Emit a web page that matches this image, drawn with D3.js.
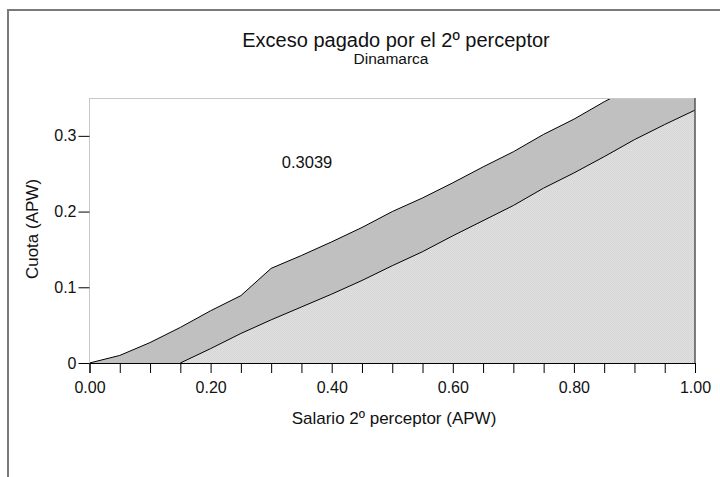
<!DOCTYPE html>
<html>
<head>
<meta charset="utf-8">
<script src="https://cdn.jsdelivr.net/npm/d3@7"></script>
<style>
  html, body { margin: 0; padding: 0; background: #fff; }
  svg { display: block; font-family: "Liberation Sans", Arial, sans-serif; }
</style>
</head>
<body>
<svg id="chart" width="720" height="477"></svg>
<script>
// salario del 2º perceptor (APW)
const salario = [0.00, 0.05, 0.10, 0.15, 0.20, 0.25, 0.30, 0.35, 0.40, 0.45, 0.50,
                 0.55, 0.60, 0.65, 0.70, 0.75, 0.80, 0.85, 0.90, 0.95, 1.00];
// cuota pagada (curva superior) y cuota individual (curva inferior)
const cuotaTotal = [0.000, 0.010, 0.027, 0.047, 0.069, 0.089, 0.125, 0.142, 0.160, 0.179, 0.200,
                    0.218, 0.238, 0.259, 0.279, 0.302, 0.322, 0.345, 0.366, 0.387, 0.408];
const cuotaBase = [0.000, 0.000, 0.000, 0.000, 0.019, 0.039, 0.057, 0.074, 0.091, 0.109, 0.1285,
                   0.147, 0.168, 0.188, 0.208, 0.231, 0.251, 0.2725, 0.295, 0.315, 0.334];
const yTicks = [0, 0.1, 0.2, 0.3];
const xLabelTicks = [0.00, 0.20, 0.40, 0.60, 0.80, 1.00];
const annotation = '0.3039';

const svg = d3.select('#chart');
const M = { left: 89.5, right: 695, top: 98, bottom: 363 };

const x = d3.scaleLinear().domain([0, 1]).range([M.left, M.right]);
const y = d3.scaleLinear().domain([0, 0.35]).range([M.bottom, M.top]);

const pts = salario.map((s, i) => ({ s, hi: cuotaTotal[i], lo: cuotaBase[i] }));

// outer frame
svg.append('rect')
  .attr('x', 8).attr('y', 10).attr('width', 730).attr('height', 500)
  .attr('fill', 'none').attr('stroke', '#7a7a7a').attr('stroke-width', 2);

// dither pattern for the lower band
const defs = svg.append('defs');
const pat = defs.append('pattern')
  .attr('id', 'dots').attr('width', 2).attr('height', 2)
  .attr('patternUnits', 'userSpaceOnUse');
pat.append('rect').attr('width', 2).attr('height', 2).attr('fill', '#e2e2e2');
pat.append('rect').attr('width', 1).attr('height', 1).attr('fill', '#d4d4d4');
pat.append('rect').attr('x', 1).attr('y', 1).attr('width', 1).attr('height', 1).attr('fill', '#d4d4d4');

defs.append('clipPath').attr('id', 'plot-clip')
  .append('rect')
  .attr('x', M.left).attr('y', M.top)
  .attr('width', M.right - M.left).attr('height', M.bottom - M.top);

const plot = svg.append('g').attr('clip-path', 'url(#plot-clip)');

plot.append('path')
  .datum(pts)
  .attr('fill', '#c0c0c0')
  .attr('d', d3.area().x((d) => x(d.s)).y0(y(0)).y1((d) => y(d.hi)));

plot.append('path')
  .datum(pts)
  .attr('fill', 'url(#dots)')
  .attr('d', d3.area().x((d) => x(d.s)).y0(y(0)).y1((d) => y(d.lo)));

plot.append('path')
  .datum(pts)
  .attr('fill', 'none').attr('stroke', '#000').attr('stroke-width', 1)
  .attr('d', d3.line().x((d) => x(d.s)).y((d) => y(d.hi)));

plot.append('path')
  .datum(pts.filter((d) => d.s >= 0.15))
  .attr('fill', 'none').attr('stroke', '#000').attr('stroke-width', 1)
  .attr('d', d3.line().x((d) => x(d.s)).y((d) => y(d.lo)));

// plot spines
svg.append('line')
  .attr('x1', M.left).attr('x2', M.right).attr('y1', M.top + 0.5).attr('y2', M.top + 0.5)
  .attr('stroke', '#c8c8c8');
svg.append('line')
  .attr('x1', M.left).attr('x2', M.left).attr('y1', M.top).attr('y2', M.bottom)
  .attr('stroke', '#c8c8c8');
svg.append('line')
  .attr('x1', M.right).attr('x2', M.right).attr('y1', M.top).attr('y2', M.bottom)
  .attr('stroke', '#555').attr('stroke-width', 1.5);

// axes
const xAxis = d3.axisBottom(x)
  .tickValues(salario)
  .tickSize(10)
  .tickPadding(9)
  .tickFormat((d) => (xLabelTicks.some((t) => Math.abs(t - d) < 1e-9) ? d3.format('.2f')(d) : ''));
const gx = svg.append('g').attr('transform', `translate(0,${M.bottom})`).call(xAxis);
gx.select('.domain').attr('stroke', '#000');
gx.selectAll('.tick line').attr('stroke', '#000');
gx.selectAll('text').attr('font-size', 16).attr('fill', '#111')
  .attr('font-family', '"Liberation Sans", Arial, sans-serif');

const yAxis = d3.axisLeft(y)
  .tickValues(yTicks)
  .tickSize(11)
  .tickPadding(2)
  .tickFormat((d) => (d === 0 ? '0' : d3.format('.1f')(d)));
const gy = svg.append('g').attr('transform', `translate(${M.left},0)`).call(yAxis);
gy.select('.domain').remove();
gy.selectAll('.tick line').attr('stroke', '#000');
gy.selectAll('text').attr('font-size', 16).attr('fill', '#111')
  .attr('font-family', '"Liberation Sans", Arial, sans-serif');

// texts
svg.append('text')
  .attr('x', 396).attr('y', 47).attr('text-anchor', 'middle')
  .attr('font-size', 20).attr('fill', '#111')
  .text('Exceso pagado por el 2º perceptor');
svg.append('text')
  .attr('x', 391).attr('y', 64).attr('text-anchor', 'middle')
  .attr('font-size', 15.5).attr('fill', '#111')
  .text('Dinamarca');
svg.append('text')
  .attr('x', 394).attr('y', 424).attr('text-anchor', 'middle')
  .attr('font-size', 17).attr('fill', '#111')
  .text('Salario 2º perceptor (APW)');
svg.append('text')
  .attr('transform', 'translate(38,229) rotate(-90)')
  .attr('text-anchor', 'middle')
  .attr('font-size', 17).attr('fill', '#111')
  .text('Cuota (APW)');
svg.append('text')
  .attr('x', 307).attr('y', 168).attr('text-anchor', 'middle')
  .attr('font-size', 16.5).attr('fill', '#111')
  .text(annotation);
</script>
</body>
</html>
